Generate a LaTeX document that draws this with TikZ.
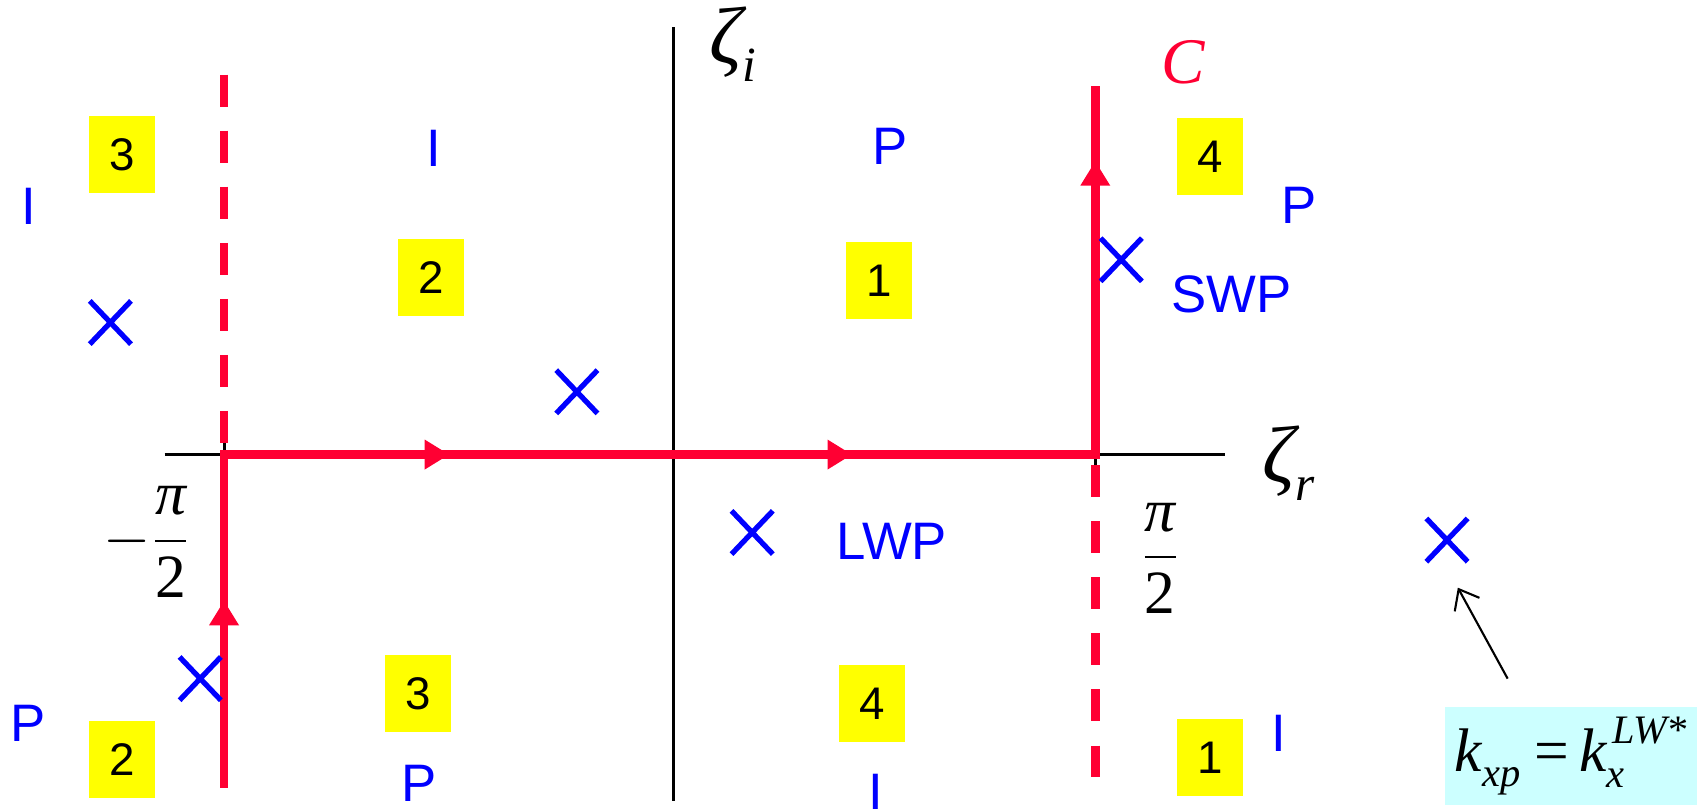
\documentclass[tikz,border=0pt]{standalone}
\usepackage{amsmath}
\usepackage{fontspec}
\setsansfont{Liberation Sans}
\newfontfamily\tms{Liberation Serif}
\usetikzlibrary{arrows.meta, decorations.markings, shapes.misc}

\definecolor{contourred}{RGB}{255,0,51}
\definecolor{sheetyellow}{RGB}{255,255,0}
\definecolor{notecyan}{RGB}{204,255,255}

\newcommand{\scr}[1]{{\fontsize{11.5}{11.5}\selectfont #1}}
\newcommand{\axsub}[1]{\raisebox{-5pt}{\fontsize{14}{14}\selectfont #1}}

\tikzset{flowtip/.tip={Triangle[length=7pt, width=8pt]}}

\begin{document}
\begin{tikzpicture}[x=0.010823cm, y=-0.010823cm,
    axis/.style={line width=0.85pt},
    contour/.style={color=contourred, line width=2.5pt, line join=miter},
    branchcut/.style={color=contourred, line width=2.5pt, dash pattern=on 0.32cm off 0.24cm},
    sheet/.style={fill=sheetyellow, minimum width=0.66cm, minimum height=0.77cm, inner sep=0pt, font=\sffamily\fontsize{13}{13}\selectfont},
    kind/.style={text=blue, inner sep=0pt, font=\sffamily\fontsize{15}{15}\selectfont},
    pole/.style={draw=blue, cross out, line width=1.5pt, minimum width=0.36cm, minimum height=0.38cm, inner sep=0pt},
    axlbl/.style={inner sep=0pt, anchor=base west, font=\tms\itshape\fontsize{23}{23}\selectfont},
    fraclbl/.style={inner sep=0pt, font=\tms\fontsize{17.5}{17.5}\selectfont}]
    \useasboundingbox (0,0) rectangle (1568,747);

    \coordinate (xl) at (152,420);
    \coordinate (xr) at (1132,420);
    \coordinate (yt) at (622,25);
    \coordinate (yb) at (622,740);
    \draw[axis] (xl) -- (xr);
    \draw[axis] (yt) -- (yb);

    \coordinate (c0) at (207,728);
    \coordinate (c1) at (207,420);
    \coordinate (c2) at (1012,420);
    \coordinate (c3) at (1012,79);
    \draw[axis] (c1) -- ++(0,-12);
    \draw[axis] (c2) -- ++(0,12);

    \coordinate (bl0) at (207,69);
    \coordinate (bl1) at (207,409);
    \coordinate (br0) at (1012,430);
    \coordinate (br1) at (1012,718);
    \draw[branchcut] (bl0) -- (bl1);
    \draw[branchcut] (br0) -- (br1);

    \draw[contour, postaction={decorate}, decoration={markings,
        mark=at position 0.119 with {\arrow{flowtip}},
        mark=at position 0.355 with {\arrow{flowtip}},
        mark=at position 0.611 with {\arrow{flowtip}},
        mark=at position 0.952 with {\arrow{flowtip}}}]
        (c0) -- (c1) -- (c2) -- (c3);

    \node[axlbl] (zi) at (655,59) {ζ\axsub{i}};
    \node[axlbl] (zr) at (1166,446) {ζ\axsub{r}};
    \node[axlbl, text=contourred, font=\tms\itshape\fontsize{18.5}{18.5}\selectfont] (clbl) at (1073,77) {C};
    \node[fraclbl] (mpi) at (136,501) {$-\dfrac{\mbox{\itshape π}}{\mbox{2}}$};
    \node[fraclbl] (ppi) at (1072,516) {$\dfrac{\mbox{\itshape π}}{\mbox{2}}$};

    \node[sheet] (s3a) at (113,143) {3};
    \node[sheet] (s2a) at (398,256) {2};
    \node[sheet] (s1a) at (812,259) {1};
    \node[sheet] (s4a) at (1118,145) {4};
    \node[sheet] (s3b) at (386,641) {3};
    \node[sheet] (s4b) at (806,650) {4};
    \node[sheet] (s2b) at (113,702) {2};
    \node[sheet] (s1b) at (1118,700) {1};

    \node[kind] (i1) at (27,191) {I};
    \node[kind] (i2) at (401,137) {I};
    \node[kind] (p1) at (822,135) {P};
    \node[kind] (p2) at (1200,190) {P};
    \node[kind] (swp) at (1138,272) {SWP};
    \node[kind] (lwp) at (824,500) {LWP};
    \node[kind] (p3) at (26,668) {P};
    \node[kind] (p4) at (387,724) {P};
    \node[kind] (i3) at (809,732) {I};
    \node[kind] (i4) at (1182,678) {I};

    \node[pole] (x1) at (102,298) {};
    \node[pole] (x2) at (533,362) {};
    \node[pole] (x3) at (695,492) {};
    \node[pole] (x4) at (1036,240) {};
    \node[pole] (x5) at (185,627) {};
    \node[pole] (x6) at (1337,499) {};

    \node[fill=notecyan, minimum width=2.52cm, minimum height=0.985cm, inner sep=0pt,
        font=\tms\itshape\fontsize{17.5}{17.5}\selectfont] (eq) at (1451.5,698.5)
        {k\raisebox{-4pt}{\scr{xp}}\hspace{4pt}{\upshape =}\hspace{3pt}k\rlap{\raisebox{-4.3pt}{\scr{x}}}\hspace{1.5pt}\raisebox{8pt}{\scr{LW*}}};
    \coordinate (tail) at (1393,627);
    \coordinate (head) at (1347,543);
    \draw[line width=0.6pt, -{Straight Barb[length=5pt, width=8pt]}] (tail) -- (head);
\end{tikzpicture}
\end{document}
